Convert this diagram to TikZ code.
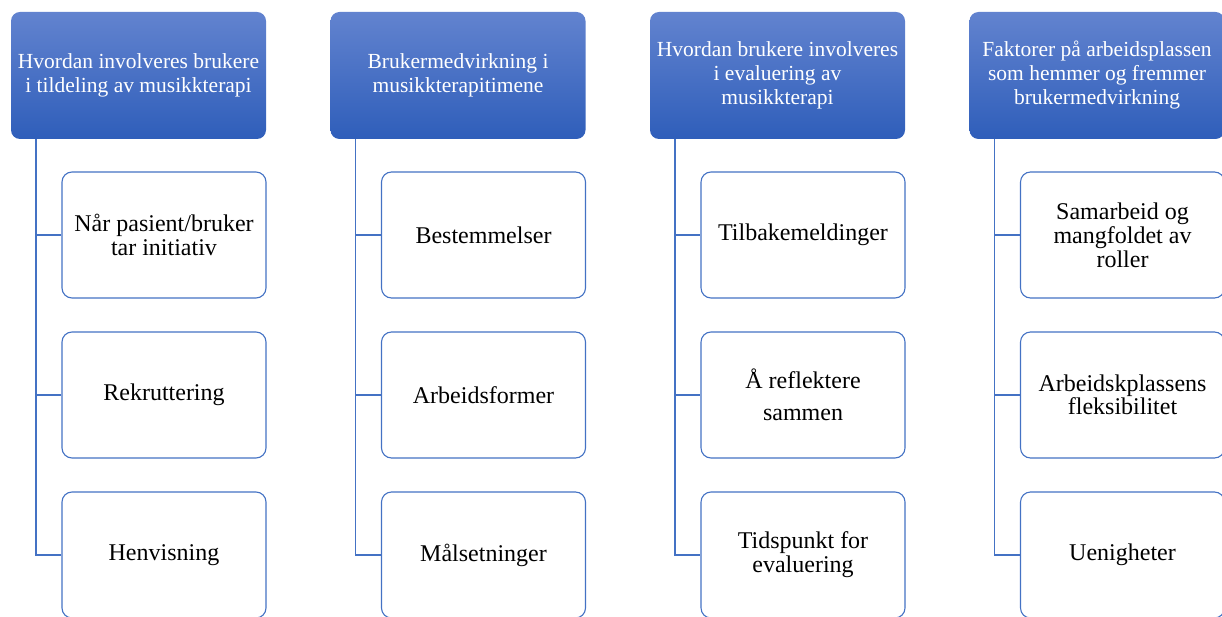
\documentclass[tikz,border=0pt]{standalone}
\usepackage{fontspec}
\setmainfont{Liberation Serif}
\definecolor{headtop}{RGB}{98,131,207}
\definecolor{headbot}{RGB}{47,94,186}
\definecolor{linkblue}{RGB}{68,114,196}
\tikzset{
  head/.style={rounded corners=9pt, top color=headtop, bottom color=headbot, draw=none,
    minimum width=255pt, minimum height=127pt, inner sep=0pt, align=center,
    text=white, font=\fontsize{21.5}{24}\selectfont},
  leaf/.style={rounded corners=10pt, draw=linkblue, line width=1.1pt, fill=white,
    minimum width=204pt, minimum height=126pt, inner sep=0pt, align=center,
    font=\fontsize{24}{24}\selectfont},
  link/.style={draw=linkblue, line width=1.5pt}
}
\begin{document}
\begin{tikzpicture}[x=1pt,y=-1pt]
\useasboundingbox (0,0) rectangle (1222,617);
%% nodes
\node[head] (H1) at (138.5,75.5) {Hvordan involveres brukere\\i tildeling av musikkterapi};
\node[leaf] (C1a) at (164,235) {Når pasient/bruker\\tar initiativ};
\node[leaf] (C1b) at (164,395) {Rekruttering};
\node[leaf] (C1c) at (164,555) {Henvisning};
\coordinate (S1) at (36,139);
%%% edges
\draw[link] (S1) |- (C1a.west);
\draw[link] (S1) |- (C1b.west);
\draw[link] (S1) |- (C1c.west);

%% nodes
\node[head] (H2) at (458,75.5) {Brukermedvirkning i\\musikkterapitimene};
\node[leaf] (C2a) at (483.5,235) {Bestemmelser};
\node[leaf] (C2b) at (483.5,395) {Arbeidsformer};
\node[leaf] (C2c) at (483.5,555) {Målsetninger};
\coordinate (S2) at (355.5,139);
%%% edges
\draw[link] (S2) |- (C2a.west);
\draw[link] (S2) |- (C2b.west);
\draw[link] (S2) |- (C2c.west);

%% nodes
\node[head] (H3) at (777.5,75.5) {Hvordan brukere involveres\\i evaluering av\\musikkterapi};
\node[leaf] (C3a) at (803,235) {Tilbakemeldinger};
\node[leaf,font=\fontsize{24}{32}\selectfont] (C3b) at (803,395) {Å reflektere\\sammen};
\node[leaf] (C3c) at (803,555) {Tidspunkt for\\evaluering};
\coordinate (S3) at (675,139);
%%% edges
\draw[link] (S3) |- (C3a.west);
\draw[link] (S3) |- (C3b.west);
\draw[link] (S3) |- (C3c.west);

%% nodes
\node[head] (H4) at (1097,75.5) {Faktorer på arbeidsplassen\\som hemmer og fremmer\\brukermedvirkning};
\node[leaf] (C4a) at (1122.5,235) {Samarbeid og\\mangfoldet av\\roller};
\node[leaf,font=\fontsize{24}{21}\selectfont] (C4b) at (1122.5,395) {Arbeidskplassens\\fleksibilitet};
\node[leaf] (C4c) at (1122.5,555) {Uenigheter};
\coordinate (S4) at (994.5,139);
%%% edges
\draw[link] (S4) |- (C4a.west);
\draw[link] (S4) |- (C4b.west);
\draw[link] (S4) |- (C4c.west);
\end{tikzpicture}
\end{document}
